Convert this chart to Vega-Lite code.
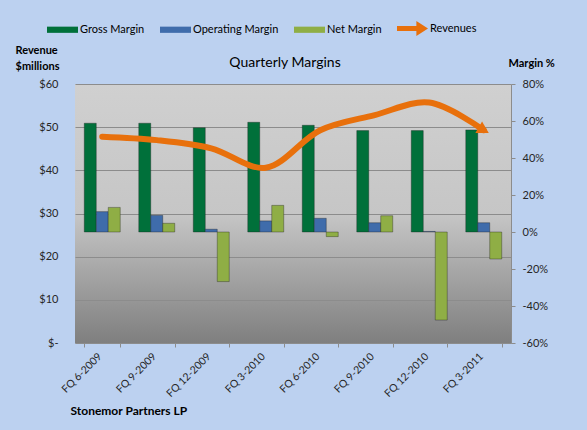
{
  "$schema": "https://vega.github.io/schema/vega-lite/v6.json",
  "width": 436,
  "height": 259,
  "autosize": "none",
  "padding": {"left": 75, "top": 84, "right": 76, "bottom": 87},
  "background": "#bcd1f0",
  "config": {
    "font": "Lato",
    "view": {
      "stroke": null,
      "fill": {"gradient": "linear", "x1": 0, "y1": 0, "x2": 0, "y2": 1,
        "stops": [{"offset": 0, "color": "#d0d0d0"}, {"offset": 0.5, "color": "#c6c6c6"}, {"offset": 1, "color": "#7f7f7f"}]}
    },
    "axis": {"labelFont": "Lato", "titleFont": "Lato", "labelColor": "#262626", "titleColor": "#000000"}
  },
  "title": {"text": "Quarterly Margins", "fontSize": 14, "fontWeight": "normal", "font": "Lato", "color": "#000000", "anchor": "middle", "frame": "group", "offset": -57, "dx": -8},
  "datasets": {
    "margins": [
      {"quarter": "FQ 6-2009", "series": "Gross Margin", "value": 58.8},
      {"quarter": "FQ 6-2009", "series": "Operating Margin", "value": 11.0},
      {"quarter": "FQ 6-2009", "series": "Net Margin", "value": 13.3},
      {"quarter": "FQ 9-2009", "series": "Gross Margin", "value": 58.8},
      {"quarter": "FQ 9-2009", "series": "Operating Margin", "value": 9.0},
      {"quarter": "FQ 9-2009", "series": "Net Margin", "value": 4.7},
      {"quarter": "FQ 12-2009", "series": "Gross Margin", "value": 56.4},
      {"quarter": "FQ 12-2009", "series": "Operating Margin", "value": 1.5},
      {"quarter": "FQ 12-2009", "series": "Net Margin", "value": -26.8},
      {"quarter": "FQ 3-2010", "series": "Gross Margin", "value": 59.3},
      {"quarter": "FQ 3-2010", "series": "Operating Margin", "value": 6.0},
      {"quarter": "FQ 3-2010", "series": "Net Margin", "value": 14.4},
      {"quarter": "FQ 6-2010", "series": "Gross Margin", "value": 57.7},
      {"quarter": "FQ 6-2010", "series": "Operating Margin", "value": 7.4},
      {"quarter": "FQ 6-2010", "series": "Net Margin", "value": -2.5},
      {"quarter": "FQ 9-2010", "series": "Gross Margin", "value": 54.8},
      {"quarter": "FQ 9-2010", "series": "Operating Margin", "value": 5.0},
      {"quarter": "FQ 9-2010", "series": "Net Margin", "value": 8.8},
      {"quarter": "FQ 12-2010", "series": "Gross Margin", "value": 54.8},
      {"quarter": "FQ 12-2010", "series": "Operating Margin", "value": 0.3},
      {"quarter": "FQ 12-2010", "series": "Net Margin", "value": -47.6},
      {"quarter": "FQ 3-2011", "series": "Gross Margin", "value": 55.2},
      {"quarter": "FQ 3-2011", "series": "Operating Margin", "value": 5.0},
      {"quarter": "FQ 3-2011", "series": "Net Margin", "value": -14.6}
    ],
    "revenue": [
      {"quarter": "FQ 6-2009", "revenue": 47.8},
      {"quarter": "FQ 9-2009", "revenue": 47.0},
      {"quarter": "FQ 12-2009", "revenue": 45.1},
      {"quarter": "FQ 3-2010", "revenue": 40.6},
      {"quarter": "FQ 6-2010", "revenue": 49.3},
      {"quarter": "FQ 9-2010", "revenue": 52.8},
      {"quarter": "FQ 12-2010", "revenue": 55.7},
      {"quarter": "FQ 3-2011", "revenue": 49.3}
    ]
  },
  "encoding": {
    "x": {
      "field": "quarter", "type": "nominal", "sort": null,
      "scale": {"paddingInner": 0.34, "paddingOuter": 0.17},
      "axis": {
        "labelAngle": -45, "labelFontSize": 10.5, "labelPadding": 4, "labelOffset": -6,
        "domainColor": "#8c8c8c", "tickColor": "#8c8c8c", "tickBand": "extent", "tickSize": 4,
        "title": "Stonemor Partners LP", "titleFontSize": 12, "titleFontWeight": "bold",
        "titleAlign": "left", "titleBaseline": "middle", "titleX": -5, "titleY": 67, "titleAnchor": "start"
      }
    }
  },
  "layer": [
    {
      "data": {"name": "margins"},
      "mark": {"type": "bar", "stroke": "#1a1a1a", "strokeOpacity": 0.35, "strokeWidth": 1},
      "encoding": {
        "xOffset": {"field": "series", "type": "nominal", "scale": {"domain": ["Gross Margin", "Operating Margin", "Net Margin"], "paddingInner": 0, "paddingOuter": 0}},
        "y": {
          "field": "value", "type": "quantitative",
          "scale": {"domain": [-60, 80], "nice": false, "zero": false},
          "axis": {
            "orient": "right", "values": [-60, -40, -20, 0, 20, 40, 60, 80], "labelExpr": "datum.value + '%'",
            "grid": false, "domainColor": "#8c8c8c", "tickColor": "#8c8c8c", "tickSize": 4, "labelPadding": 7, "labelFontSize": 11,
            "title": "Margin %", "titleAngle": 0, "titleAlign": "left", "titleBaseline": "middle", "titleX": -3, "titleY": -21,
            "titleFontSize": 11, "titleFontWeight": "bold"
          }
        },
        "color": {
          "field": "series", "type": "nominal",
          "scale": {"domain": ["Gross Margin", "Operating Margin", "Net Margin", "Revenues"], "range": ["#00703a", "#3f6cab", "#8fae45", "#e8700c"]},
          "legend": {
            "orient": "none", "direction": "horizontal", "legendX": -28, "legendY": -71, "title": null,
            "symbolSize": 961, "labelFontSize": 11, "labelFont": "Lato", "labelColor": "#000000", "labelOffset": 2, "columnPadding": 15, "padding": 0,
            "symbolType": "M-1,-0.2H1V0.2H-1Z", "symbolStrokeWidth": 0, "symbolOpacity": 1
          }
        }
      }
    },
    {
      "data": {"name": "revenue"},
      "layer": [
        {
          "mark": {"type": "line", "interpolate": "catmull-rom", "strokeWidth": 6, "strokeCap": "round"},
          "encoding": {
            "y": {
              "field": "revenue", "type": "quantitative",
              "scale": {"domain": [0, 60], "nice": false},
              "axis": {
                "orient": "left", "values": [0, 10, 20, 30, 40, 50, 60],
                "labelExpr": "datum.value == 0 ? '$-' : '$' + datum.value",
                "grid": true, "gridColor": "#8c8c8c", "gridWidth": 1, "domain": false, "ticks": false, "labelPadding": 17, "labelFontSize": 11,
                "title": ["Revenue", "$millions"], "titleAngle": 0, "titleAlign": "left", "titleBaseline": "top", "titleX": -60, "titleY": -40,
                "titleFontSize": 11, "titleFontWeight": "bold", "titleLineHeight": 16
              }
            },
            "color": {"datum": "Revenues"}
          }
        },
        {
          "transform": [{"filter": "datum.quarter === 'FQ 3-2011'"}],
          "mark": {"type": "point", "shape": "triangle-right", "filled": true, "size": 180, "angle": 30, "opacity": 1},
          "encoding": {
            "y": {"field": "revenue", "type": "quantitative"},
            "color": {"datum": "Revenues"}
          }
        },
        {
          "transform": [{"filter": "datum.revenue < 0"}],
          "mark": {"type": "point", "filled": true, "opacity": 1},
          "encoding": {
            "y": {"field": "revenue", "type": "quantitative"},
            "color": {"datum": "Revenues"},
            "shape": {
              "datum": "Revenues", "type": "nominal",
              "scale": {"domain": ["Gross Margin", "Operating Margin", "Net Margin", "Revenues"],
                "range": ["M-1,-0.2H1V0.2H-1Z", "M-1,-0.2H1V0.2H-1Z", "M-1,-0.2H1V0.2H-1Z", "M-1,-0.16H0.25V-0.48L1,0L0.25,0.48V0.16H-1Z"]}
            }
          }
        }
      ]
    }
  ],
  "resolve": {"scale": {"y": "independent"}}
}
